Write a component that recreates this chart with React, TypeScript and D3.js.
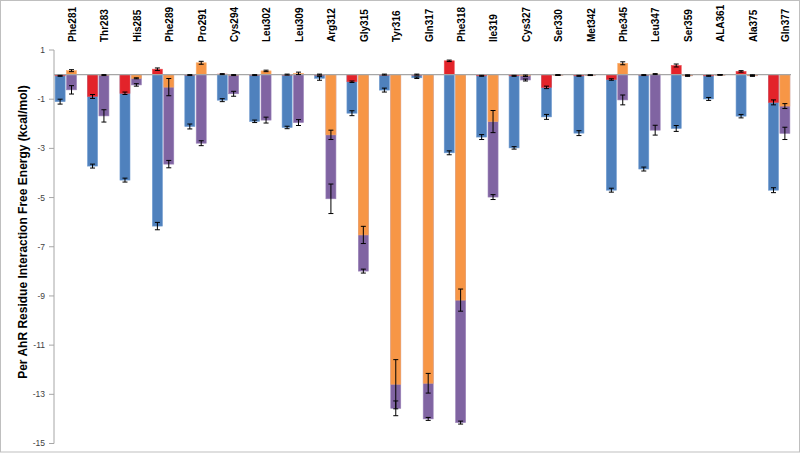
import React from "react";
import * as d3 from "d3";

const categories = ["Phe281","Thr283","His285","Phe289","Pro291","Cys294","Leu302","Leu309","Arg312","Gly315","Tyr316","Gln317","Phe318","Ile319","Cys327","Ser330","Met342","Phe345","Leu347","Ser359","ALA361","Ala375","Gln377"];

// left position (primary, behind): blue; front: red
const blueValues = [-1.1,-3.72,-4.29,-6.16,-2.11,-1.04,-1.9,-2.15,-0.15,-1.57,-0.63,-0.13,-3.18,-2.54,-2.98,-1.72,-2.38,-4.7,-3.84,-2.19,-0.99,-1.69,-4.7];
const blueErrors = [0.1,0.08,0.08,0.15,0.1,0.06,0.05,0.05,0.08,0.1,0.08,0.03,0.08,0.1,0.05,0.1,0.1,0.08,0.08,0.12,0.06,0.07,0.1];
const redValues = [-0.05,-0.89,-0.76,0.22,-0.02,0.02,-0.02,0,0,-0.29,0,0,0.56,-0.05,-0.05,-0.52,-0.05,-0.2,-0.02,0.37,-0.05,0.13,-1.13];
const redErrors = [0.02,0.08,0.05,0.05,0.02,0.02,0.02,0.02,0.02,0.03,0.02,0.02,0.03,0.02,0.02,0.05,0.02,0.03,0.02,0.06,0.02,0.03,0.1];
// right position (primary, behind): purple; front: orange
const purpleValues = [-0.62,-1.68,-0.42,-3.64,-2.79,-0.78,-1.85,-1.95,-5.05,-7.99,-13.57,-14.0,-14.15,-4.98,-0.22,-0.02,-0.03,-1.03,-2.26,-0.05,-0.01,-0.05,-2.39];
const purpleErrors = [0.17,0.25,0.05,0.15,0.1,0.1,0.12,0.12,0.6,0.08,0.3,0.06,0.06,0.1,0.04,0.01,0.01,0.2,0.2,0.02,0.01,0.02,0.25];
const orangeValues = [0.16,-0.02,-0.15,-0.51,0.48,-0.02,0.15,0.05,-2.45,-6.52,-12.59,-12.55,-9.17,-1.91,-0.05,-0.02,-0.02,0.46,0.02,-0.03,-0.01,-0.03,-1.28];
const orangeErrors = [0.04,0.02,0.02,0.35,0.06,0.02,0.03,0.05,0.19,0.35,1.0,0.4,0.45,0.45,0.03,0.01,0.01,0.06,0.02,0.02,0.01,0.02,0.1];

const yTicks = [1,-1,-3,-5,-7,-9,-11,-13,-15];
const yTitle = "Per AhR Residue Interaction Free Energy (kcal/mol)";

const W = 800, H = 454;

export default function App() {
  const x0 = d3.scaleBand<string>().domain(categories).range([49.6, 795.4]).paddingInner(0.34).paddingOuter(0.17);
  const x1 = d3.scaleBand<string>().domain(["L","R"]).range([0, x0.bandwidth()]).paddingInner(0.12);
  const y = d3.scaleLinear().domain([1, -15]).range([50, 443.5]);
  const axisX = 54;

  const series = [
    { key: "blue", pos: "L", values: blueValues, errors: blueErrors, color: "#4F81BD", stroke: "#6f9bd0" },
    { key: "purple", pos: "R", values: purpleValues, errors: purpleErrors, color: "#8064A2", stroke: "#9a82b8" },
    { key: "red", pos: "L", values: redValues, errors: redErrors, color: "#E3232A", stroke: "#ec4a50" },
    { key: "orange", pos: "R", values: orangeValues, errors: orangeErrors, color: "#F79646", stroke: "#f9ad6c" },
  ];

  return (
    <svg width={W} height={H} style={{ position: "absolute", left: 0, top: 0, background: "#fff" }} fontFamily="'Liberation Sans', Arial, sans-serif">
      <rect x={0.5} y={0.5} width={W - 1} height={451.5} fill="#fff" stroke="#BFBFBF" />
      {/* y axis */}
      <line x1={axisX} x2={axisX} y1={y(1)} y2={y(-15)} stroke="#A6A6A6" strokeWidth={1} />
      {yTicks.map((t) => (
        <g key={t}>
          <line x1={axisX - 5} x2={axisX} y1={y(t)} y2={y(t)} stroke="#A6A6A6" />
          <text x={axisX - 9} y={y(t)} dy="0.35em" textAnchor="end" fontSize={8.5} fill="#404040">{t}</text>
        </g>
      ))}
      <text transform={`translate(27,232) rotate(-90)`} textAnchor="middle" fontSize={12} fontWeight="bold" fill="#000">{yTitle}</text>
      {/* bars */}
      {series.map((s) => (
        <g key={s.key}>
          {categories.map((c, i) => {
            const v = s.values[i];
            const bx = (x0(c) as number) + (x1(s.pos) as number);
            const y0 = y(0), yv = y(v);
            return (
              <rect key={c} x={bx} y={Math.min(y0, yv)} width={x1.bandwidth()} height={Math.max(0.5, Math.abs(yv - y0))} fill={s.color} stroke={s.stroke} strokeWidth={0.6} />
            );
          })}
        </g>
      ))}
      {/* zero line */}
      <line x1={axisX} x2={791} y1={y(0)} y2={y(0)} stroke="#A6A6A6" strokeWidth={1.2} />
      {/* error bars */}
      {series.map((s) => (
        <g key={s.key + "e"} stroke="#000" strokeWidth={1}>
          {categories.map((c, i) => {
            const v = s.values[i], e = s.errors[i];
            const cx = (x0(c) as number) + (x1(s.pos) as number) + x1.bandwidth() / 2;
            const ya = y(v + e), yb = y(v - e);
            return (
              <g key={c}>
                <line x1={cx} x2={cx} y1={ya} y2={yb} />
                <line x1={cx - 2.5} x2={cx + 2.5} y1={ya} y2={ya} />
                <line x1={cx - 2.5} x2={cx + 2.5} y1={yb} y2={yb} />
              </g>
            );
          })}
        </g>
      ))}
      {/* category labels */}
      {categories.map((c) => {
        const cx = (x0(c) as number) + x0.bandwidth() / 2 + 10;
        return (
          <text key={c} transform={`translate(${cx},42) rotate(-90)`} textAnchor="start" fontSize={10} fontWeight="bold" fill="#000">{c}</text>
        );
      })}
    </svg>
  );
}
